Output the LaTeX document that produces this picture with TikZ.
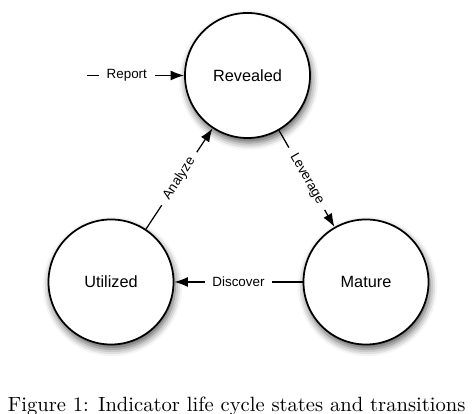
\documentclass[tikz,border=0pt]{standalone}
\usepackage{fontspec}
\setsansfont{Liberation Sans}
\usetikzlibrary{arrows.meta,shadows.blur}
\begin{document}
\begin{tikzpicture}[x=0.4854pt,y=-0.4854pt,
  state/.style={circle,draw=black,line width=0.85pt,fill=white,minimum size=60.7pt,inner sep=0pt,
    font=\sffamily\fontsize{7.9}{9}\selectfont,
    blur shadow={shadow xshift=0.7pt,shadow yshift=-2.2pt,shadow blur radius=3.5pt,shadow opacity=65}},
  trans/.style={line width=0.6pt,-{Latex[length=6.5pt,width=4.8pt]}},
  lbl/.style={fill=white,inner xsep=3.8pt,inner ysep=1pt,font=\sffamily\fontsize{6.5}{8}\selectfont}]
\useasboundingbox (0,0) rectangle (473,414);
\node[state] (rev) at (247.5,75.5) {Revealed};
\node[state] (uti) at (111,282) {Utilized};
\node[state] (mat) at (366,282) {Mature};
\coordinate (rstart) at (87,75.5);
\draw[trans] (rstart) -- node[lbl,pos=0.41] (lrep) {Report} (rev);
\draw[trans] (rev) -- node[lbl,sloped,pos=0.5] (llev) {Leverage} (mat);
\draw[trans] (mat) -- node[lbl,pos=0.5] (ldis) {Discover} (uti);
\draw[trans] (uti) -- node[lbl,sloped,pos=0.5] (lana) {Analyze} (rev);
\node[anchor=base west,inner sep=0pt,font=\fontsize{10}{12}\selectfont] (cap) at (7.5,411.5)
  {Figure 1: Indicator life cycle states and transitions};
\end{tikzpicture}
\end{document}
